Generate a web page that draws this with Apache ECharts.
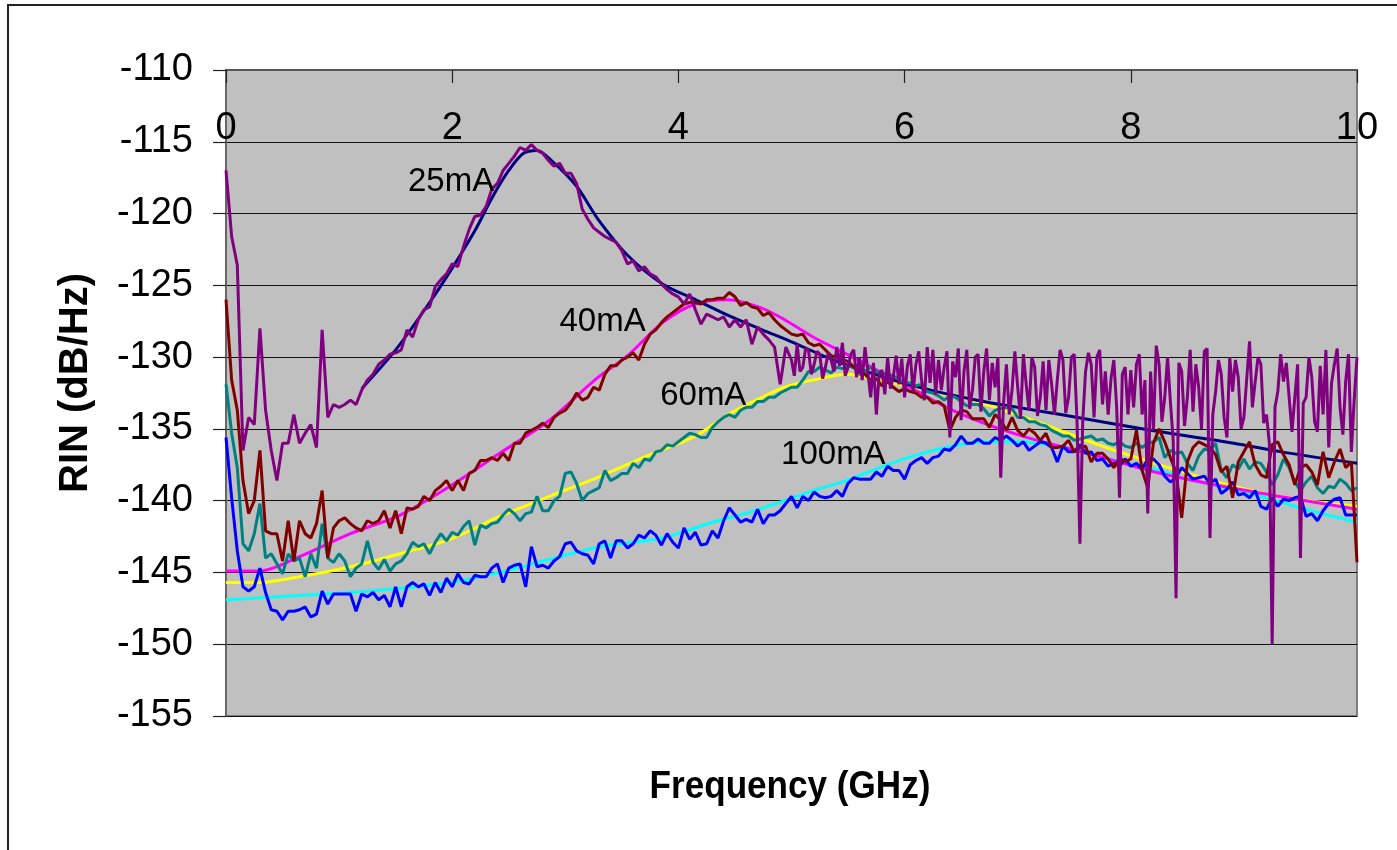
<!DOCTYPE html>
<html>
<head>
<meta charset="utf-8">
<script src="https://cdn.jsdelivr.net/npm/echarts@6.0.0/dist/echarts.min.js"></script>
<style>
  html, body { margin: 0; padding: 0; background: #fff; }
  #chart { width: 1397px; height: 850px; }
</style>
</head>
<body>
<div id="chart"></div>
<script>
// measured RIN traces, one value every 0.05 GHz from 0 to 10 GHz
var freq = []
for (var i = 0; i <= 200; i++) freq.push(+(i * 0.05).toFixed(2))

// 25mA trace: 0..4.95 GHz every 0.05, then 5..10 GHz every 0.025 (denser noise)
var freq25 = []
for (var i = 0; i < 100; i++) freq25.push(+(i * 0.05).toFixed(3))
for (var i = 0; i <= 200; i++) freq25.push(+(5 + i * 0.025).toFixed(3))

var rin25lo = [
  -117.0,-121.6,-123.6,-136.5,-134.2,-134.7,-128.0,-133.7,-136.5,-138.6,
  -136.0,-136.0,-134.0,-136.0,-135.3,-134.7,-136.3,-128.1,-134.2,-133.3,
  -133.5,-133.3,-133.0,-133.3,-132.3,-131.6,-131.2,-130.5,-130.2,-129.8,
  -129.7,-129.5,-128.1,-128.6,-127.4,-126.7,-126.5,-125.1,-124.6,-124.2,
  -123.5,-123.7,-122.3,-121.1,-120.2,-120.1,-119.5,-118.3,-117.9,-117.0,
  -116.5,-116.0,-115.4,-115.6,-115.2,-115.6,-115.8,-116.3,-116.7,-116.5,
  -117.2,-117.2,-117.9,-119.7,-120.4,-121.0,-121.3,-121.6,-121.8,-122.0,
  -122.6,-123.5,-123.3,-124.0,-123.7,-124.2,-124.4,-124.9,-125.3,-125.6,
  -125.8,-126.3,-125.6,-126.7,-127.7,-127.0,-127.2,-127.4,-127.2,-127.9,
  -127.4,-127.9,-127.4,-129.1,-127.9,-128.4,-128.8,-129.3,-131.9,-129.3
]
var rin25hi = [
  -130.2,-131.3,-129.1,-131.0,-130.7,-129.4,-129.5,-131.2,-130.5,-129.6,
  -129.8,-131.5,-130.7,-129.7,-130.2,-131.0,-129.3,-130.6,-129.0,-131.3,
  -130.7,-129.8,-129.5,-131.4,-130.0,-131.6,-129.3,-131.0,-132.8,-130.4,
  -134.0,-131.2,-130.9,-132.6,-130.0,-132.2,-131.4,-129.9,-131.9,-130.1,
  -132.8,-130.6,-129.8,-132.4,-130.5,-129.6,-131.6,-133.0,-129.3,-131.8,
  -129.5,-132.6,-130.2,-132.3,-130.7,-129.6,-135.6,-130.3,-131.4,-129.4,
  -134.4,-131.0,-129.5,-133.6,-132.3,-130.0,-129.8,-133.8,-131.0,-129.4,
  -133.0,-130.4,-132.1,-130.0,-138.4,-133.2,-130.5,-134.0,-132.3,-129.6,
  -132.1,-134.3,-129.8,-131.9,-133.7,-130.0,-130.7,-134.1,-132.8,-130.3,
  -133.7,-130.2,-131.9,-134.0,-131.6,-129.5,-130.2,-133.9,-132.8,-130.0,
  -129.8,-134.6,-143.0,-134.5,-131.0,-129.7,-130.5,-134.2,-130.0,-129.5,
  -133.3,-131.0,-134.0,-131.5,-130.2,-133.5,-139.8,-131.2,-130.7,-134.0,
  -130.9,-133.5,-130.5,-129.8,-134.0,-131.6,-140.9,-131.0,-135.1,-129.2,
  -130.5,-134.5,-132.8,-130.0,-133.1,-135.8,-146.8,-130.4,-131.0,-134.8,
  -132.8,-129.5,-133.8,-130.5,-132.1,-135.0,-129.6,-129.4,-142.6,-134.0,
  -132.4,-130.2,-131.2,-134.2,-135.6,-130.0,-132.4,-130.2,-131.4,-135.0,
  -134.2,-131.5,-128.9,-133.5,-131.7,-130.0,-130.5,-134.6,-134.0,-136.0,
  -150.0,-133.5,-132.4,-129.8,-131.7,-130.4,-132.8,-135.2,-132.8,-130.5,
  -144.0,-133.2,-132.8,-130.0,-131.4,-134.5,-135.2,-130.6,-134.0,-129.5,
  -136.3,-131.8,-130.5,-129.4,-133.5,-135.4,-131.7,-129.8,-136.6,-133.0,
  -130.0
]
var rin40 = [
  -126.0,-131.6,-133.7,-138.6,-140.9,-140.0,-136.5,-142.1,-142.3,-142.3,
  -144.2,-141.4,-144.2,-141.4,-142.3,-142.6,-141.6,-139.3,-144.0,-141.9,
  -141.4,-141.2,-141.6,-141.9,-142.1,-141.4,-141.6,-141.4,-140.7,-141.9,
  -140.7,-142.3,-140.5,-140.6,-140.4,-139.7,-140.0,-139.3,-139.0,-138.6,
  -139.3,-138.6,-139.3,-138.1,-137.9,-137.2,-137.2,-137.0,-137.2,-136.7,
  -137.2,-136.0,-136.0,-135.3,-135.1,-134.9,-134.6,-134.9,-134.2,-133.9,
  -133.7,-133.2,-132.5,-133.0,-132.8,-132.1,-132.3,-131.2,-130.6,-130.6,
  -130.2,-130.0,-129.7,-130.2,-129.1,-128.4,-128.1,-127.6,-127.2,-126.9,
  -126.6,-126.3,-126.2,-126.2,-126.3,-126.0,-126.0,-125.9,-125.9,-125.5,
  -125.8,-126.4,-126.2,-126.5,-126.6,-127.1,-126.9,-127.4,-127.8,-128.1,
  -128.4,-128.5,-128.4,-129.0,-129.2,-129.1,-129.5,-129.9,-130.0,-130.2,
  -130.3,-130.7,-131.0,-131.2,-131.6,-131.5,-132.0,-131.7,-132.1,-132.4,
  -132.2,-132.4,-132.5,-132.8,-132.8,-133.2,-133.1,-133.4,-135.1,-134.2,
  -133.7,-133.8,-134.3,-134.3,-134.3,-134.9,-134.0,-134.4,-135.1,-134.2,
  -135.1,-135.5,-135.0,-135.3,-135.8,-135.3,-136.3,-136.3,-136.2,-135.8,
  -136.6,-136.3,-136.2,-137.3,-136.7,-136.7,-137.1,-137.7,-137.0,-137.3,
  -137.1,-135.1,-137.9,-139.1,-136.0,-135.0,-135.9,-137.0,-138.0,-141.2,
  -137.3,-136.3,-135.9,-136.1,-136.3,-136.8,-138.0,-137.6,-139.8,-137.3,
  -136.6,-135.9,-137.5,-138.2,-138.4,-136.1,-135.9,-136.8,-137.5,-138.9,
  -137.7,-137.5,-138.0,-138.9,-136.6,-138.4,-137.3,-136.4,-137.7,-137.3,
  -144.3
]
var rin60 = [
  -131.9,-135.3,-137.7,-143.0,-143.5,-142.3,-140.2,-144.0,-143.7,-144.4,
  -145.1,-143.7,-144.2,-144.0,-145.3,-143.7,-144.7,-141.6,-144.0,-144.3,
  -143.7,-144.2,-145.3,-144.7,-144.4,-142.8,-144.3,-144.8,-144.1,-144.9,
  -144.4,-144.2,-143.7,-142.9,-143.2,-143.0,-143.7,-142.9,-142.3,-142.8,
  -142.2,-142.4,-141.8,-141.4,-143.1,-141.7,-141.9,-141.6,-141.5,-141.0,
  -140.6,-140.9,-141.4,-140.9,-140.8,-139.7,-140.7,-140.7,-140.0,-139.7,
  -138.1,-138.0,-138.8,-140.0,-139.5,-139.3,-139.1,-137.9,-138.6,-138.4,
  -138.1,-138.1,-137.4,-137.7,-137.1,-137.2,-136.6,-136.5,-136.1,-136.2,
  -135.9,-135.6,-135.3,-135.4,-135.6,-135.6,-134.9,-134.5,-134.2,-134.0,
  -134.2,-133.7,-133.5,-133.5,-133.1,-133.1,-132.8,-132.8,-132.5,-132.3,
  -132.1,-132.1,-131.6,-131.0,-131.0,-130.7,-130.9,-131.1,-130.7,-130.8,
  -130.6,-130.7,-131.2,-131.0,-130.7,-131.0,-131.1,-131.2,-131.3,-131.6,
  -131.8,-131.8,-132.0,-131.9,-132.4,-132.5,-132.7,-133.0,-132.7,-132.8,
  -133.1,-133.4,-133.3,-133.3,-133.6,-134.1,-133.7,-133.6,-133.5,-133.6,
  -134.2,-134.2,-134.5,-134.5,-134.7,-134.8,-135.1,-135.3,-135.5,-135.5,
  -135.8,-135.7,-135.6,-135.5,-135.8,-135.7,-136.0,-136.1,-135.9,-136.2,
  -136.3,-136.0,-136.3,-136.0,-135.9,-135.6,-137.0,-136.5,-136.7,-136.6,
  -137.4,-137.9,-136.9,-136.4,-136.5,-136.0,-137.9,-138.4,-137.5,-137.8,
  -137.1,-137.8,-137.3,-137.4,-138.0,-138.9,-138.2,-137.1,-137.7,-138.7,
  -139.3,-138.7,-138.3,-139.1,-139.5,-139.0,-139.1,-138.5,-138.8,-139.3,
  -139.1
]
var rin100 = [
  -135.6,-139.8,-143.5,-146.0,-146.3,-146.0,-144.7,-146.4,-147.6,-147.7,
  -148.3,-147.7,-147.7,-147.6,-147.4,-148.1,-147.9,-146.3,-147.2,-146.5,
  -146.5,-146.5,-146.5,-147.7,-146.5,-146.7,-146.4,-146.9,-146.6,-147.4,
  -146.0,-147.4,-146.0,-145.7,-146.0,-145.8,-146.6,-145.7,-146.4,-145.4,
  -146.0,-145.1,-145.7,-145.8,-145.2,-145.3,-145.3,-144.7,-144.4,-145.7,
  -144.7,-144.5,-144.4,-146.0,-143.2,-144.6,-144.5,-144.7,-144.2,-143.9,
  -143.0,-142.9,-143.5,-143.7,-143.8,-144.4,-143.0,-142.8,-144.0,-142.8,
  -142.8,-143.3,-143.0,-142.4,-142.6,-142.1,-142.4,-143.1,-142.3,-142.9,
  -143.3,-141.9,-142.7,-142.2,-143.1,-143.0,-142.1,-142.6,-141.4,-140.5,
  -141.0,-141.5,-141.3,-141.5,-140.6,-141.6,-141.0,-141.0,-140.7,-140.2,
  -139.7,-140.5,-139.7,-140.0,-139.4,-139.7,-139.8,-139.7,-139.3,-139.7,
  -138.8,-138.4,-138.5,-138.5,-138.5,-138.0,-138.3,-137.6,-137.9,-137.9,
  -138.5,-137.5,-137.2,-137.0,-137.4,-137.0,-136.9,-136.4,-136.5,-136.1,
  -135.5,-136.0,-136.0,-135.7,-136.0,-136.0,-135.6,-135.8,-135.5,-135.8,
  -136.2,-135.9,-136.5,-136.2,-135.9,-136.0,-136.3,-137.3,-136.2,-136.6,
  -136.6,-136.1,-136.7,-136.6,-137.2,-137.1,-137.6,-137.4,-137.6,-137.1,
  -137.6,-137.4,-137.8,-137.1,-137.1,-137.5,-138.3,-138.7,-138.4,-137.7,
  -138.1,-138.5,-138.4,-138.3,-138.8,-138.5,-139.5,-139.2,-138.7,-139.6,
  -139.5,-139.8,-139.3,-140.4,-140.6,-139.8,-140.4,-139.9,-140.0,-139.8,
  -139.7,-141.1,-140.9,-141.4,-140.7,-140.2,-139.9,-139.8,-141.0,-141.0,
  -141.0
]

// fitted curves
var fitFreq25 = [1.2,1.5,1.8,2.0,2.2,2.36,2.5,2.63,2.75,2.89,3.1,3.29,3.55,3.86,4.15,4.44,4.74,4.99,5.4,5.82,6.23,6.64,7.0,7.38,7.88,8.5,8.91,9.33,10]
var fit25 = [-132.2,-129.5,-126.2,-123.8,-121.2,-118.8,-117,-115.8,-115.6,-116.4,-118.1,-120.4,-122.9,-124.9,-126.0,-127.1,-128.1,-128.9,-130.3,-131.4,-132.3,-133.0,-133.5,-134.0,-134.7,-135.5,-136.0,-136.6,-137.4]
var fitFreq40 = [0,0.3,0.65,1.1,1.54,1.98,2.42,2.86,3.26,3.55,3.86,4.15,4.44,4.74,4.94,5.19,5.49,5.78,6.07,6.37,6.7,7.0,7.27,7.71,8.21,8.81,9.39,10]
var fit40 = [-144.9,-144.9,-143.9,-142.3,-141.0,-139.0,-136.7,-134.4,-131.6,-129.9,-127.6,-126.3,-126.0,-126.6,-127.4,-128.6,-129.8,-131.0,-132.2,-133.5,-134.6,-135.4,-136.0,-136.9,-138.0,-139.0,-139.8,-140.6]
var fitFreq60 = [0,0.3,0.65,1.1,1.54,1.98,2.42,2.86,3.31,3.75,4.15,4.44,4.74,4.94,5.19,5.49,5.78,6.07,6.37,6.6,7.13,7.71,8.21,8.81,9.39,10]
var fit60 = [-145.7,-145.7,-145.3,-144.6,-143.7,-142.7,-141.1,-139.7,-138.3,-136.8,-135.5,-134.0,-132.8,-132.1,-131.6,-131.2,-131.6,-132.1,-132.6,-133.0,-134.4,-136.1,-137.4,-138.8,-139.8,-140.4]
var fitFreq100 = [0,0.24,0.65,1.1,1.54,1.98,2.42,2.86,3.31,3.86,4.3,4.59,4.94,5.19,5.49,5.78,6.07,6.37,6.7,6.98,7.42,7.86,8.26,8.5,9.1,9.54,10]
var fit100 = [-146.9,-146.8,-146.6,-146.4,-146.1,-145.7,-145.0,-144.1,-143.2,-142.6,-141.5,-140.9,-140.0,-139.3,-138.6,-137.7,-136.9,-136.3,-135.9,-135.9,-136.3,-137.2,-137.9,-138.5,-139.6,-140.6,-141.5]

// curve labels (data coordinates)
var labelText = ['25mA', '40mA', '60mA', '100mA']
var labelFreq = [1.99, 3.33, 4.22, 5.37]
var labelRin = [-117.8, -127.55, -132.7, -136.8]

var FONT = '"Liberation Sans", Arial, sans-serif'

function pairs(xs, ys) {
  var out = []
  for (var k = 0; k < ys.length; k++) out.push([xs[k], ys[k]])
  return out
}

function lineSeries(name, xs, ys, color, smooth) {
  return {
    name: name,
    type: 'line',
    data: pairs(xs, ys),
    showSymbol: false,
    symbol: 'none',
    smooth: smooth || false,
    lineStyle: { color: color, width: 3 },
    emphasis: { disabled: true }
  }
}

var chart = echarts.init(document.getElementById('chart'))

chart.setOption({
  animation: false,
  grid: {
    left: 226, top: 70, width: 1131, height: 646,
    show: true,
    backgroundColor: '#c0c0c0',
    borderColor: '#808080',
    borderWidth: 2
  },
  xAxis: {
    type: 'value',
    position: 'top',
    min: 0, max: 10, interval: 2,
    axisLine: { show: true, onZero: false, lineStyle: { color: '#555', width: 2 } },
    axisTick: { show: true, inside: true, length: 13, lineStyle: { color: '#222', width: 1.2 } },
    axisLabel: { inside: true, margin: 40, fontSize: 38, color: '#000', fontFamily: FONT },
    splitLine: { show: false }
  },
  yAxis: {
    type: 'value',
    min: -155, max: -110, interval: 5,
    axisLine: { show: true, onZero: false, lineStyle: { color: '#666', width: 2 } },
    axisTick: { show: true, length: 13, lineStyle: { color: '#222', width: 1.2 } },
    axisLabel: { margin: 33, fontSize: 38, color: '#000', fontFamily: FONT },
    splitLine: { show: true, lineStyle: { color: '#111', width: 1.2 } }
  },
  series: [
    lineSeries('100mA fit', fitFreq100, fit100, '#00ffff', 0.3),
    lineSeries('60mA fit', fitFreq60, fit60, '#ffff00', 0.3),
    lineSeries('40mA fit', fitFreq40, fit40, '#ff00ff', 0.3),
    lineSeries('25mA fit', fitFreq25, fit25, '#000080', 0.3),
    lineSeries('100mA', freq, rin100, '#0000ff'),
    lineSeries('60mA', freq, rin60, '#008080'),
    lineSeries('40mA', freq, rin40, '#800000'),
    lineSeries('25mA', freq25, rin25lo.concat(rin25hi), '#800080')
  ]
})

var graphics = [
  {
    type: 'rect', silent: true,
    shape: { x: 8, y: 5, width: 1420, height: 880 },
    style: { fill: 'none', stroke: '#222', lineWidth: 2 }
  },
  {
    type: 'text', x: 790, y: 787, scaleX: 0.9,
    style: { text: 'Frequency (GHz)', font: 'bold 39px ' + FONT, fill: '#000', textAlign: 'center', textVerticalAlign: 'middle' }
  },
  {
    type: 'text', x: 76, y: 383, rotation: Math.PI / 2,
    style: { text: 'RIN (dB/Hz)', font: 'bold 40px ' + FONT, fill: '#000', textAlign: 'center', textVerticalAlign: 'middle' }
  }
]
for (var j = 0; j < labelText.length; j++) {
  var p = chart.convertToPixel({ gridIndex: 0 }, [labelFreq[j], labelRin[j]])
  graphics.push({
    type: 'text', x: p[0], y: p[1], z: 10,
    style: { text: labelText[j], font: '33px ' + FONT, fill: '#000', textAlign: 'center', textVerticalAlign: 'middle' }
  })
}
chart.setOption({ graphic: graphics })
</script>
</body>
</html>
